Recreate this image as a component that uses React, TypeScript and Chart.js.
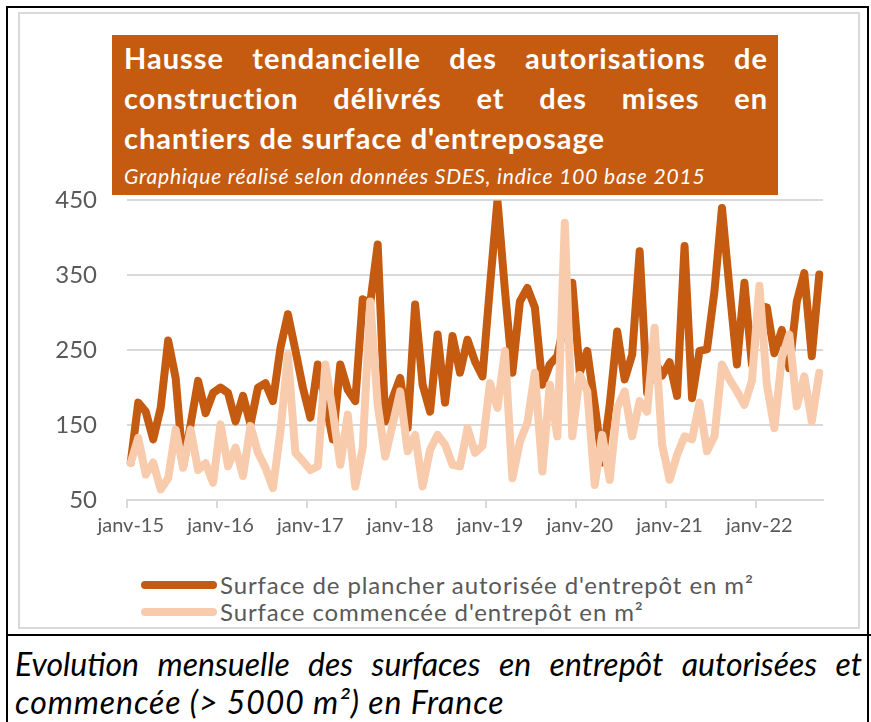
import React, { useEffect, useRef } from "react";
import { Chart, registerables } from "chart.js";

Chart.register(...registerables);

const monthNames = ["janv", "févr", "mars", "avr", "mai", "juin", "juil", "août", "sept", "oct", "nov", "déc"];
const years = ["15", "16", "17", "18", "19", "20", "21", "22"];
const monthCount = 93; // janv-15 .. sept-22

const categories: string[] = [];
years.forEach((y) => monthNames.forEach((m) => categories.push(m + "-" + y)));
const labels = categories.slice(0, monthCount);

// Surface de plancher autorisée d'entrepôt (indice 100 = janv-15)
const authorized = [
  100, 180, 168, 131, 173, 263, 213, 95, 151, 209, 166, 193, 200, 193, 155, 189, 151, 200, 206,
  182, 253, 298, 250, 200, 160, 231, 182, 131, 231, 197, 182, 318, 313, 391, 155, 186, 213,
  146, 311, 204, 168, 271, 180, 269, 220, 264, 235, 215, 335, 450, 330, 220, 315, 333, 307,
  204, 231, 242, 291, 340, 220, 249, 177, 100, 177, 275, 211, 244, 382, 193, 236, 216, 234, 189,
  389, 186, 249, 251, 329, 440, 333, 231, 340, 231, 309, 307, 246, 277, 226, 315, 353, 242, 351,
];

// Surface commencée d'entrepôt
const started = [
  100, 133, 84, 100, 64, 79, 144, 93, 144, 90, 99, 73, 151, 95, 120, 82, 149, 113, 93,
  66, 142, 244, 113, 102, 90, 95, 231, 168, 97, 164, 68, 120, 315, 177, 108, 151, 195,
  115, 137, 68, 117, 137, 124, 97, 95, 146, 113, 122, 206, 173, 249, 79, 128, 153, 220,
  88, 204, 135, 420, 135, 217, 195, 70, 137, 77, 173, 195, 135, 182, 168, 280, 124, 77, 110,
  135, 131, 180, 115, 135, 231, 211, 195, 177, 209, 336, 204, 146, 240, 271, 175, 215, 155, 220,
];

const yTicks = [50, 150, 250, 350, 450];

const seriesNames = [
  "Surface de plancher autorisée d'entrepôt en m²",
  "Surface commencée d'entrepôt en m²",
];
const DARK = "#C55A11";
const LIGHT = "#F8CBAD";
const GRID = "#D9D9D9";
const TEXT = "#595959";

export default function App() {
  const ref = useRef<HTMLCanvasElement | null>(null);

  useEffect(() => {
    let chart: Chart | null = null;
    let cancelled = false;
    const make = () => {
      if (cancelled || !ref.current) return;
      chart = new Chart(ref.current, {
        type: "line",
        data: {
          labels,
          datasets: [
            {
              label: seriesNames[0],
              data: authorized,
              borderColor: DARK,
              backgroundColor: DARK,
              borderWidth: 8,
              pointRadius: 0,
              tension: 0,
              borderCapStyle: "round",
              borderJoinStyle: "round",
              order: 1,
            },
            {
              label: seriesNames[1],
              data: started,
              borderColor: LIGHT,
              backgroundColor: LIGHT,
              borderWidth: 8,
              pointRadius: 0,
              tension: 0,
              borderCapStyle: "round",
              borderJoinStyle: "round",
              order: 0,
            },
          ],
        },
        options: {
          animation: false,
          responsive: false,
          devicePixelRatio: 1,
          layout: { padding: { top: 14, right: 27, bottom: 0, left: 0 } },
          plugins: {
            legend: { display: false },
            title: { display: false },
            tooltip: { enabled: false },
          },
          scales: {
            x: {
              type: "category",
              offset: true,
              grid: {
                offset: true,
                drawOnChartArea: false,
                drawTicks: true,
                tickLength: 8,
                lineWidth: 2,
                color: (ctx: any) => (ctx.index % 12 === 0 && ctx.index < monthCount ? GRID : "rgba(0,0,0,0)"),
              },
              border: { display: true, color: GRID, width: 2 },
              ticks: {
                autoSkip: false,
                maxRotation: 0,
                minRotation: 0,
                padding: 6,
                color: TEXT,
                font: { family: "Lato", size: 20 },
                callback: (_v: any, i: number) => (i % 12 === 0 ? labels[i] : ""),
              },
              afterFit: (scale: any) => {
                scale.height = 45;
              },
            },
            y: {
              min: 50,
              max: 450,
              afterBuildTicks: (scale: any) => {
                scale.ticks = yTicks.map((v) => ({ value: v }));
              },
              grid: { color: GRID, lineWidth: 2, drawTicks: false },
              border: { display: false },
              ticks: {
                padding: 30,
                color: TEXT,
                font: { family: "Lato", size: 24 },
              },
              afterFit: (scale: any) => {
                scale.width = 107;
              },
            },
          },
        },
      });
    };
    if ((document as any).fonts && (document as any).fonts.ready) {
      (document as any).fonts.ready.then(make);
    } else {
      make();
    }
    return () => {
      cancelled = true;
      if (chart) chart.destroy();
    };
  }, []);

  const abs: React.CSSProperties = { position: "absolute" };

  return (
    <div
      style={{
        position: "absolute",
        left: 0,
        top: 0,
        width: 871,
        height: 722,
        overflow: "hidden",
        background: "#fff",
        fontFamily: "Lato, sans-serif",
      }}
    >
      {/* outer black frame */}
      <div style={{ ...abs, left: 6, top: 6, width: 863, height: 740, border: "2px solid #000", boxSizing: "border-box" }} />
      {/* inner gray chart border */}
      <div style={{ ...abs, left: 18, top: 12, width: 842, height: 617, border: "2px solid #D9D9D9", boxSizing: "border-box" }} />
      {/* separator */}
      <div style={{ ...abs, left: 6, top: 634, width: 865, height: 2, background: "#000" }} />

      <canvas ref={ref} width={830} height={389} style={{ ...abs, left: 20, top: 156, width: 830, height: 389 }} />

      {/* title box */}
      <div
        style={{
          ...abs,
          left: 112,
          top: 35,
          width: 666,
          height: 160,
          background: DARK,
          color: "#fff",
          boxSizing: "border-box",
          padding: "3px 10px 0 12px",
        }}
      >
        {[
          "Hausse tendancielle des autorisations de",
          "construction délivrés et des mises en",
        ].map((t) => (
          <div key={t} style={{ fontWeight: 700, fontSize: 29, lineHeight: "40px", letterSpacing: 1, textAlign: "justify", textAlignLast: "justify", whiteSpace: "nowrap" as any }}>
            {t}
          </div>
        ))}
        <div style={{ fontWeight: 700, fontSize: 29, lineHeight: "40px", letterSpacing: 1, whiteSpace: "nowrap" }}>chantiers de surface d'entreposage</div>
        <div style={{ fontStyle: "italic", fontSize: 21, lineHeight: "24px", letterSpacing: 0.85, marginTop: 6, whiteSpace: "nowrap" }}>
          Graphique réalisé selon données SDES, indice 100 base 2015
        </div>
      </div>

      {/* legend */}
      <div style={{ ...abs, left: 141, top: 571, color: TEXT, fontSize: 24, letterSpacing: 0.9 }}>
        {seriesNames.map((n, i) => (
          <div key={n} style={{ display: "flex", alignItems: "center", height: 27, whiteSpace: "nowrap" }}>
            <span
              style={{
                display: "inline-block",
                width: 76,
                height: 8,
                borderRadius: 4,
                background: i === 0 ? DARK : LIGHT,
                marginRight: 3,
              }}
            />
            <span>{n}</span>
          </div>
        ))}
      </div>

      {/* caption */}
      <div style={{ ...abs, left: 15, top: 645, width: 847, color: "#000", fontStyle: "italic", fontSize: 32, lineHeight: "38px" }}>
        <div style={{ textAlign: "justify", textAlignLast: "justify", whiteSpace: "nowrap" }}>
          Evolution mensuelle des surfaces en entrepôt autorisées et
        </div>
        <div style={{ whiteSpace: "nowrap", letterSpacing: 0.9 }}>commencée (&gt; 5000 m²) en France</div>
      </div>
    </div>
  );
}
